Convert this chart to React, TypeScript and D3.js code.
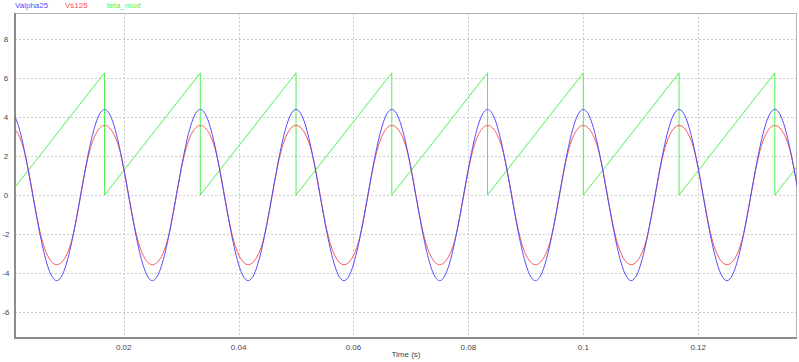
import * as d3 from 'd3';
import { useEffect, useRef } from 'react';

const sampleStep = 1 / 720;

const valpha25 = [
  4.4, 3.81, 2.2, 0, -2.2, -3.81, -4.4, -3.81, -2.2, 0, 2.2, 3.81,
  4.4, 3.81, 2.2, 0, -2.2, -3.81, -4.4, -3.81, -2.2, 0, 2.2, 3.81,
  4.4, 3.81, 2.2, 0, -2.2, -3.81, -4.4, -3.81, -2.2, 0, 2.2, 3.81,
  4.4, 3.81, 2.2, 0, -2.2, -3.81, -4.4, -3.81, -2.2, 0, 2.2, 3.81,
  4.4, 3.81, 2.2, 0, -2.2, -3.81, -4.4, -3.81, -2.2, 0, 2.2, 3.81,
  4.4, 3.81, 2.2, 0, -2.2, -3.81, -4.4, -3.81, -2.2, 0, 2.2, 3.81,
  4.4, 3.81, 2.2, 0, -2.2, -3.81, -4.4, -3.81, -2.2, 0, 2.2, 3.81,
  4.4, 3.81, 2.2, 0, -2.2, -3.81, -4.4, -3.81, -2.2, 0, 2.2, 3.81,
  4.4, 3.81, 2.2, 0
];

const vs125 = [
  3.58, 3.25, 2.15, 0.05, -2.05, -3.22, -3.58, -3.25, -2.15, -0.05, 2.05, 3.22,
  3.58, 3.25, 2.15, 0.05, -2.05, -3.22, -3.58, -3.25, -2.15, -0.05, 2.05, 3.22,
  3.58, 3.25, 2.15, 0.05, -2.05, -3.22, -3.58, -3.25, -2.15, -0.05, 2.05, 3.22,
  3.58, 3.25, 2.15, 0.05, -2.05, -3.22, -3.58, -3.25, -2.15, -0.05, 2.05, 3.22,
  3.58, 3.25, 2.15, 0.05, -2.05, -3.22, -3.58, -3.25, -2.15, -0.05, 2.05, 3.22,
  3.58, 3.25, 2.15, 0.05, -2.05, -3.22, -3.58, -3.25, -2.15, -0.05, 2.05, 3.22,
  3.58, 3.25, 2.15, 0.05, -2.05, -3.22, -3.58, -3.25, -2.15, -0.05, 2.05, 3.22,
  3.58, 3.25, 2.15, 0.05, -2.05, -3.22, -3.58, -3.25, -2.15, -0.05, 2.05, 3.22,
  3.58, 3.25, 2.15, 0.05
];

// sawtooth corners
const tetaTimes = [
  0, 0.016667, 0.016667, 0.033333, 0.033333, 0.05, 0.05, 0.066667, 0.066667,
  0.083333, 0.083333, 0.1, 0.1, 0.116667, 0.116667, 0.133333, 0.133333, 0.1375
];
const tetaValues = [
  0, 6.28, 0, 6.28, 0, 6.28, 0, 6.28, 0, 6.28, 0, 6.28, 0, 6.28, 0, 6.28, 0, 1.57
];

const series = [
  { name: 'Valpha25', color: '#5050ff' },
  { name: 'Vs125', color: '#ff5050' },
  { name: 'teta_mod', color: '#50f050' }
];

const xTicks = [0.02, 0.04, 0.06, 0.08, 0.1, 0.12];
const yTicks = [-6, -4, -2, 0, 2, 4, 6, 8];

export default function App() {
  const ref = useRef<SVGSVGElement>(null);

  useEffect(() => {
    const width = 799;
    const height = 362;
    const margin = { top: 13, right: 2, bottom: 24, left: 15 };
    const svg = d3.select(ref.current);
    svg.selectAll('*').remove();

    const x = d3.scaleLinear().domain([0.00108, 0.1372]).range([margin.left, width - margin.right]);
    const y = d3.scaleLinear().domain([-7.35, 9.36]).range([height - margin.bottom, margin.top]);

    svg
      .append('defs')
      .append('clipPath')
      .attr('id', 'plot-clip')
      .append('rect')
      .attr('x', margin.left)
      .attr('y', margin.top)
      .attr('width', width - margin.left - margin.right)
      .attr('height', height - margin.top - margin.bottom);

    // grid
    const grid = svg.append('g').attr('stroke', '#cccccc').attr('stroke-dasharray', '2,2').attr('shape-rendering', 'crispEdges');
    grid
      .selectAll('.vg')
      .data(xTicks)
      .join('line')
      .attr('x1', (d) => Math.round(x(d)) + 0.5)
      .attr('x2', (d) => Math.round(x(d)) + 0.5)
      .attr('y1', margin.top)
      .attr('y2', height - margin.bottom);
    grid
      .selectAll('.hg')
      .data(yTicks)
      .join('line')
      .attr('y1', (d) => Math.round(y(d)) + 0.5)
      .attr('y2', (d) => Math.round(y(d)) + 0.5)
      .attr('x1', margin.left)
      .attr('x2', width - margin.right);

    // frame
    svg
      .append('rect')
      .attr('x', margin.left + 0.5)
      .attr('y', margin.top + 0.5)
      .attr('width', width - margin.left - margin.right - 1)
      .attr('height', height - margin.top - margin.bottom - 1)
      .attr('fill', 'none')
      .attr('stroke', '#b4b4b4');
    svg
      .append('path')
      .attr('d', `M${margin.left},${margin.top}V${height - margin.bottom}H${width - margin.right}`)
      .attr('fill', 'none')
      .attr('stroke', '#8c8c8c')
      .attr('stroke-width', 2);

    const plot = svg.append('g').attr('clip-path', 'url(#plot-clip)').attr('fill', 'none').attr('stroke-width', 1);

    const line = d3
      .line<number>()
      .x((_, i) => x(i * sampleStep))
      .y((d) => y(d))
      .curve(d3.curveNatural);

    plot.append('path').datum(tetaValues).attr('stroke', series[2].color).attr('d', d3.line<number>().x((_, i) => x(tetaTimes[i])).y((d) => y(d)));
    plot.append('path').datum(vs125).attr('stroke', series[1].color).attr('d', line);
    plot.append('path').datum(valpha25).attr('stroke', series[0].color).attr('d', line);

    const font = 'Liberation Sans, Arial, sans-serif';

    // axis labels
    svg
      .append('g')
      .attr('font-family', font)
      .attr('font-size', 8)
      .attr('fill', '#444')
      .attr('text-anchor', 'middle')
      .selectAll('text')
      .data(xTicks)
      .join('text')
      .attr('x', (d) => x(d))
      .attr('y', height - margin.bottom + 12)
      .text((d) => String(d));
    svg
      .append('g')
      .attr('font-family', font)
      .attr('font-size', 8)
      .attr('fill', '#444')
      .attr('text-anchor', 'middle')
      .selectAll('text')
      .data(yTicks)
      .join('text')
      .attr('x', 6)
      .attr('y', (d) => y(d) + 3)
      .text((d) => String(d));

    svg
      .append('text')
      .attr('x', (margin.left + width - margin.right) / 2)
      .attr('y', 357)
      .attr('text-anchor', 'middle')
      .attr('font-family', font)
      .attr('font-size', 8)
      .attr('fill', '#444')
      .text('Time (s)');

    // legend
    const legendX = [15, 65, 107];
    svg
      .append('g')
      .attr('font-family', font)
      .attr('font-size', 8)
      .selectAll('text')
      .data(series)
      .join('text')
      .attr('x', (_, i) => legendX[i])
      .attr('y', 8)
      .attr('fill', (d) => d.color)
      .text((d) => d.name);
  }, []);

  return <svg ref={ref} width={799} height={362} style={{ position: 'absolute', left: 0, top: 0, background: '#fff' }} />;
}
